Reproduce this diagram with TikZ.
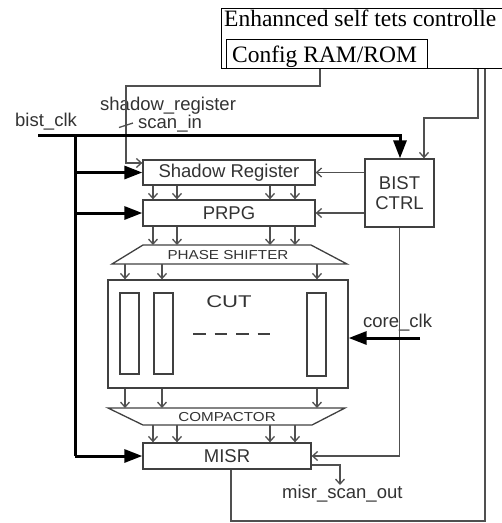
\documentclass[tikz,border=0pt]{standalone}
\usepackage{fontspec}
\setmainfont{Liberation Sans}
\newfontfamily\titlefont{Liberation Serif}
\usetikzlibrary{arrows.meta}
\newcommand\lblfont{\fontsize{18.5}{19.5}\selectfont}
\newcommand\smallcaps{\fontsize{13}{14}\selectfont}
\definecolor{boxc}{HTML}{404040}
\definecolor{linec}{HTML}{505050}
\definecolor{txtc}{HTML}{333333}
\begin{document}
\begin{tikzpicture}[x=1pt,y=-1pt,
  blk/.style={draw=boxc, line width=1.3pt, fill=white, inner sep=0pt,
              font=\lblfont, text=txtc},
  lbl/.style={inner sep=0pt, font=\lblfont, text=txtc},
  thinarrow/.style={draw=linec, line width=1.3pt,
                    -{Straight Barb[length=5pt,width=9pt]}},
  plainline/.style={draw=linec, line width=1.3pt},
  heavyarrow/.style={draw=black, line width=3pt, line join=miter,
                     -{Triangle[length=18pt,width=13pt]}},
  heavyline/.style={draw=black, line width=3pt},
  trap/.style={draw=boxc, line width=1.3pt, line join=miter},
  cell/.style={draw=boxc, line width=1.3pt}]
\useasboundingbox (0,0) rectangle (502,523);
\clip (0,0) rectangle (502,523);

% controller and configuration memory
\node[draw=black, line width=1.3pt, inner sep=0pt, anchor=north west,
      minimum width=300pt, minimum height=60pt] (esc) at (221,8) {};
\node[inner sep=0pt, anchor=base west, font=\titlefont\fontsize{23.5}{25}\selectfont]
      (esct) at (224,26) {Enhannced self tets controlle};
\node[draw=black, line width=1.3pt, inner sep=0pt, anchor=north west,
      minimum width=201pt, minimum height=29pt] (cfg) at (226,39) {};
\node[inner sep=0pt, anchor=base west, font=\titlefont\fontsize{23.5}{25}\selectfont]
      (cfgt) at (232,62) {Config RAM/ROM};

% main blocks
\node[blk, minimum width=172pt, minimum height=25pt] (sr)   at (229,172.5) {Shadow Register};
\node[blk, minimum width=172pt, minimum height=26pt] (prpg) at (229,213)   {PRPG};
\node[blk, minimum width=69pt,  minimum height=68pt, align=center] (bist) at (399.5,193) {BIST\\CTRL};
\node[blk, minimum width=240pt, minimum height=108pt] (cut) at (228,334) {};
\node[blk, minimum width=168pt, minimum height=26pt] (misr) at (227,456) {MISR};

% phase shifter and compactor
\draw[trap] (143,245) -- (311,245) -- (347,264) -- (112,264) -- cycle;
\node[lbl, font=\smallcaps] (pst) at (228,255) {\scalebox{1.17}[1]{PHASE SHIFTER}};
\draw[trap] (108,408) -- (345,408) -- (312,425) -- (143,425) -- cycle;
\node[lbl, font=\smallcaps] (cmt) at (227,417) {\scalebox{1.17}[1]{COMPACTOR}};

% scan chains inside the CUT
\draw[cell] (120,293) rectangle (139,374);
\draw[cell] (154,293) rectangle (173,374);
\draw[cell] (307,293) rectangle (326,376);
\node[lbl, font=\fontsize{17}{18}\selectfont] (cutt) at (229,302) {\scalebox{1.3}[1]{CUT}};
\draw[draw=boxc, line width=1.6pt, dash pattern=on 12.5pt off 9pt] (193,334) -- (272,334);

% labels
\node[lbl, anchor=base west] (clk)  at (15,126)  {bist\_clk};
\node[lbl, anchor=base west] (shr)  at (100,110) {shadow\_register};
\node[lbl, anchor=base west] (scin) at (138,128) {scan\_in};
\node[lbl, anchor=base west] (cclk) at (363,327) {core\_clk};
\node[lbl, anchor=base west] (mso)  at (282,498) {misr\_scan\_out};

% helper coordinates
\coordinate (k1) at (320,0);
\coordinate (k2) at (126,86);
\coordinate (ksr) at (0,163);
\coordinate (r1) at (478,0);
\coordinate (r2) at (424,118);
\coordinate (r3) at (485,0);
\coordinate (bot) at (0,521);
\coordinate (m1) at (231,0);
\coordinate (mo) at (0,465);
\coordinate (mo2) at (340,485);
\coordinate (clk0) at (38,135);
\coordinate (b1) at (400,0);
\coordinate (bus) at (75,135);
\coordinate (cc) at (420,338);
\coordinate (psT) at (0,245);
\coordinate (psB) at (0,264);
\coordinate (cmT) at (0,408);
\coordinate (cmB) at (0,425);

% configuration paths
\draw[thinarrow] (cfg.south -| k1) |- (k2) |- (sr.west |- ksr);
\draw[plainline] (119,127.5) -- (133,123);
\draw[thinarrow] (esc.south -| r1) |- (r2) -- (bist.north -| r2);
\draw[plainline] (esc.south -| r3) -- (r3 |- bot) -| (misr.south -| m1);

% BIST controller outputs
\draw[thinarrow] (bist.west |- sr) -- (sr.east);
\draw[thinarrow] (bist.west |- prpg) -- (prpg.east);
\draw[thinarrow] (bist.south) |- (misr.east);
\draw[thinarrow] (misr.east |- mo) -| (mo2);

% clocks
\draw[heavyarrow] (clk0) -| (bist.north -| b1);
\draw[heavyline] (bus) -- (bus |- misr);
\draw[heavyarrow] (bus |- sr) -- (sr.west);
\draw[heavyarrow] (bus |- prpg) -- (prpg.west);
\draw[heavyarrow] (bus |- misr) -- (misr.west);
\draw[heavyarrow] (cc) -- (cut.east |- cc);

% data paths
\foreach \x in {153,177,270,295} {
  \coordinate (c) at (\x,0);
  \draw[thinarrow] (sr.south -| c) -- (prpg.north -| c);
  \draw[thinarrow] (prpg.south -| c) -- (c |- psT);
  \draw[thinarrow] (c |- cmB) -- (misr.north -| c);
}
\foreach \x in {125,162,317} {
  \coordinate (p) at (\x,0);
  \draw[thinarrow] (p |- psB) -- (cut.north -| p);
  \draw[thinarrow] (cut.south -| p) -- (p |- cmT);
}
\end{tikzpicture}
\end{document}
